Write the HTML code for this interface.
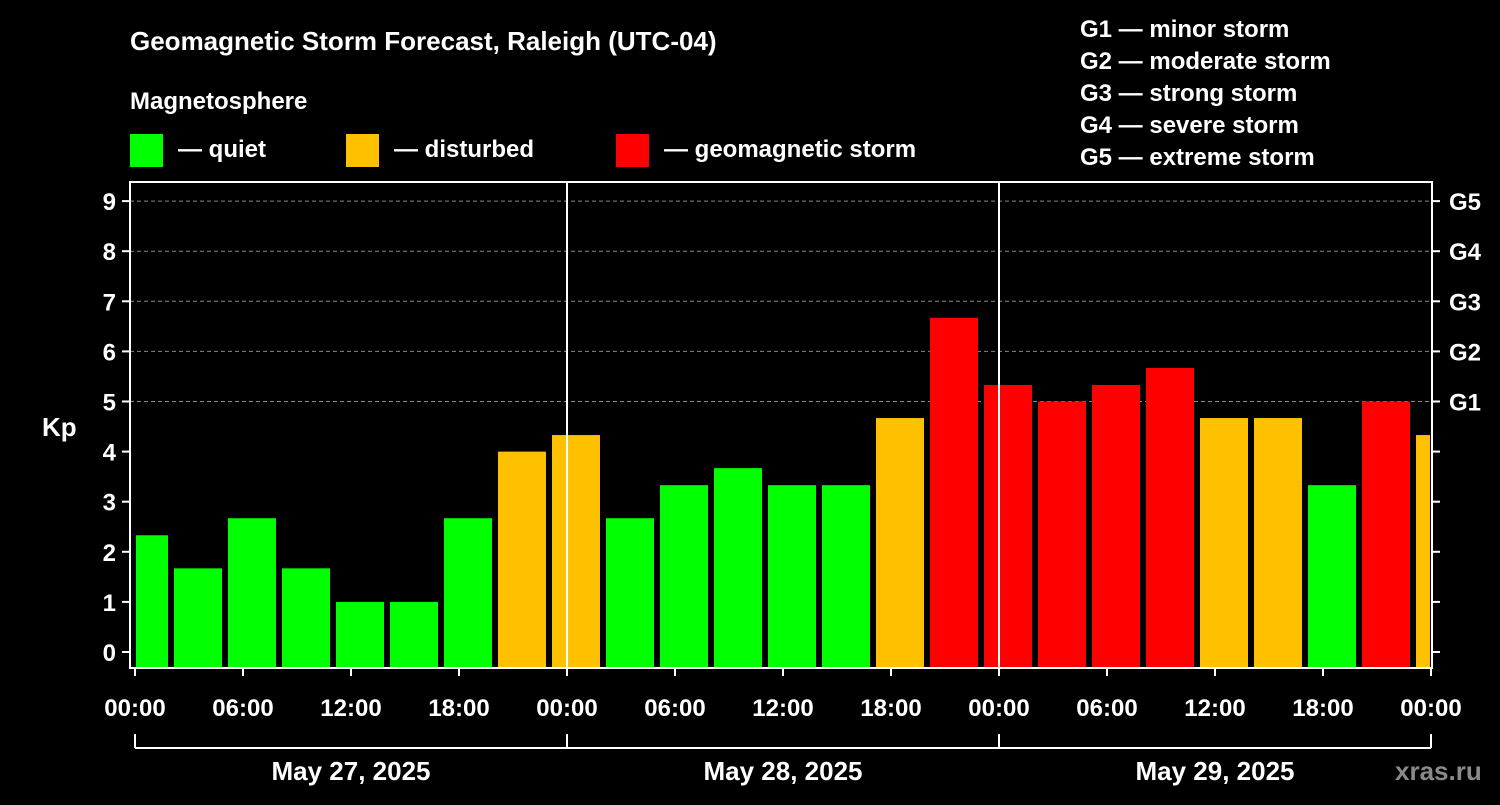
<!DOCTYPE html>
<html><head><meta charset="utf-8"><style>
body{margin:0;background:#000;width:1500px;height:800px;overflow:hidden;font-family:"Liberation Sans",Arial,sans-serif}
svg text{font-family:"Liberation Sans",Arial,sans-serif;font-weight:bold;fill:#fff}
</style></head><body>
<svg id="chart" width="1500" height="800">
<text x="130" y="50" font-size="26">Geomagnetic Storm Forecast, Raleigh (UTC-04)</text>
<text x="130" y="109" font-size="24">Magnetosphere</text>
<g><rect x="130" y="134" width="33" height="33" fill="#00ff00"/><text x="178" y="157" font-size="24">— quiet</text></g>
<g><rect x="346" y="134" width="33" height="33" fill="#ffc000"/><text x="394" y="157" font-size="24">— disturbed</text></g>
<g><rect x="616" y="134" width="33" height="33" fill="#ff0000"/><text x="664" y="157" font-size="24">— geomagnetic storm</text></g>
<g font-size="24">
<text x="1080" y="37">G1 — minor storm</text><text x="1080" y="69">G2 — moderate storm</text><text x="1080" y="101">G3 — strong storm</text><text x="1080" y="133">G4 — severe storm</text><text x="1080" y="165">G5 — extreme storm</text></g>
<text x="42" y="436" font-size="26">Kp</text>
<text x="1395" y="780" font-size="26" fill="#888" style="fill:#8a8a8a">xras.ru</text>
<g id="plot"></g>
</svg>
<script>
const kpValues=[2.33,1.67,2.67,1.67,1,1,2.67,4,4.33,2.67,3.33,3.67,3.33,3.33,4.67,6.67,5.33,5,5.33,5.67,4.67,4.67,3.33,5,4.33];
const yTicks=[0,1,2,3,4,5,6,7,8,9];
const gLabels=["","","","","","G1","G2","G3","G4","G5"];
const xTickLabels=["00:00","06:00","12:00","18:00","00:00","06:00","12:00","18:00","00:00","06:00","12:00","18:00","00:00"];
const dayLabels=["May 27, 2025","May 28, 2025","May 29, 2025"];
const NS="http://www.w3.org/2000/svg";
const L=130,R=1432,T=182,B=668,X0=135,PXH=18;
const y=v=>652-50.1*v;
const x=h=>X0+h*PXH;
const g=document.getElementById('plot');
function mk(t,a,txt){const e=document.createElementNS(NS,t);for(const k in a)e.setAttribute(k,a[k]);if(txt!==undefined)e.textContent=txt;g.appendChild(e);return e;}
yTicks.forEach((v,i)=>{
 if(v>=5){const gl=mk('line',{x1:L,x2:R,y1:y(v),y2:y(v),stroke:'#888','stroke-dasharray':'4,3','stroke-width':1});
 
 }
});
kpValues.forEach((v,i)=>{
 let x1=x(3*i-1)+3,x2=x(3*i+2)-3;
 x1=Math.max(x1,L+6);x2=Math.min(x2,R-2);
 const c=v>=5?'#ff0000':(v>=4?'#ffc000':'#00ff00');
 const r=mk('rect',{x:x1,y:y(v),width:x2-x1,height:B-y(v),fill:c});
 
 
});
[1,2].forEach(d=>{const l=mk('line',{x1:x(24*d),x2:x(24*d),y1:T,y2:B,stroke:'#fff','stroke-width':2});
 
 });
const f=mk('rect',{x:L,y:T,width:R-L,height:B-T,fill:'none',stroke:'#fff','stroke-width':2});


yTicks.forEach((v,i)=>{
 mk('line',{x1:L-8,x2:L,y1:y(v),y2:y(v),stroke:'#fff','stroke-width':2});
 mk('line',{x1:R,x2:R+8,y1:y(v),y2:y(v),stroke:'#fff','stroke-width':2});
 const t=mk('text',{x:L-14,y:y(v)+9,'font-size':24,'text-anchor':'end'},String(v));
 
 
 if(gLabels[i]){const gt=mk('text',{x:R+17,y:y(v)+9,'font-size':24},gLabels[i]);
 
 }
});
xTickLabels.forEach((s,i)=>{
 mk('line',{x1:x(6*i),x2:x(6*i),y1:B,y2:B+8,stroke:'#fff','stroke-width':2});
 const t=mk('text',{x:x(6*i),y:716,'font-size':24,'text-anchor':'middle'},s);
 
 
});
mk('line',{x1:x(0),x2:x(72),y1:748,y2:748,stroke:'#fff','stroke-width':2});
[0,1,2,3].forEach(d=>mk('line',{x1:x(24*d),x2:x(24*d),y1:734,y2:748,stroke:'#fff','stroke-width':2}));
dayLabels.forEach((s,d)=>{const t=mk('text',{x:x(24*d+12),y:780,'font-size':26,'text-anchor':'middle'},s);
 
 });
</script>
</body></html>
